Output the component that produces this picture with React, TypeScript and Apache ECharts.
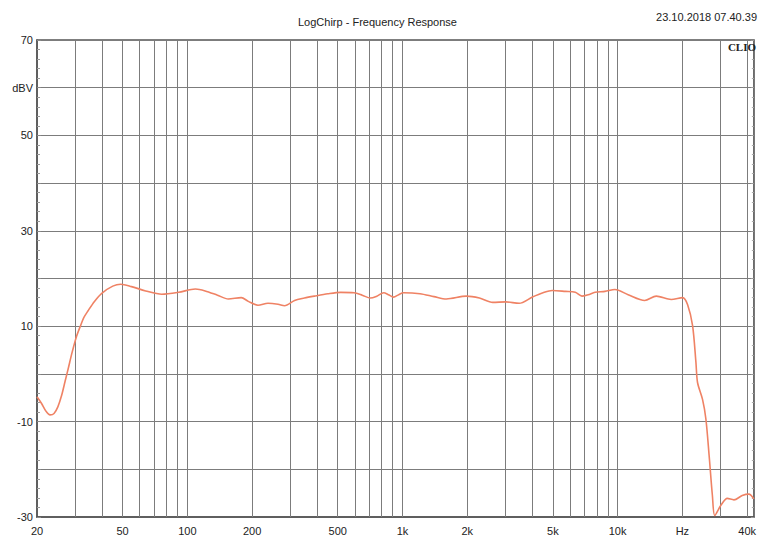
import React, { useEffect, useRef } from "react";
import * as echarts from "echarts";

const freqHz = [20, 21, 22, 23, 24, 25, 26, 27, 28, 29, 30.5, 32, 33, 34.5, 37, 40, 45, 49, 55, 64, 76, 91, 109, 121, 138, 155, 178, 192, 213, 237, 264, 283, 315, 350, 389, 450, 516, 595, 650, 709, 760, 818, 860, 909, 960, 1011, 1206, 1400, 1600, 1979, 2279, 2627, 3025, 3484, 4016, 4500, 4966, 5719, 6358, 6827, 7300, 7861, 8738, 9721, 11193, 13362, 15132, 17737, 20064, 21156, 22309, 23125, 23522, 24800, 25714, 26631, 27580, 28291, 30157, 32357, 34731, 37945, 40736, 43000];
const levelDb = [-4.8, -6.2, -7.8, -8.6, -8.3, -6.9, -4.6, -1.6, 1.3, 4.2, 7.8, 10.3, 11.8, 13.2, 15.2, 16.9, 18.4, 18.8, 18.3, 17.4, 16.7, 17.1, 17.8, 17.4, 16.5, 15.7, 16.0, 15.2, 14.4, 14.8, 14.6, 14.3, 15.4, 15.9, 16.3, 16.8, 17.1, 17.0, 16.5, 15.9, 16.3, 17.0, 16.6, 16.1, 16.6, 17.0, 16.8, 16.2, 15.7, 16.3, 15.9, 15.0, 15.1, 14.8, 16.1, 17.0, 17.5, 17.3, 17.1, 16.3, 16.6, 17.1, 17.3, 17.7, 16.6, 15.4, 16.3, 15.6, 16.0, 14.5, 10.1, 2.4, -1.8, -5.3, -9.4, -17.1, -25.5, -29.7, -27.6, -26.1, -26.4, -25.5, -25.2, -26.2];

const xLabelValues = [20, 50, 100, 200, 500, 1000, 2000, 5000, 10000, 20000, 40000];
const gridFreqs = [30, 40, 50, 60, 70, 80, 90, 100, 200, 300, 400, 500, 600, 700, 800, 900, 1000, 2000, 3000, 4000, 5000, 6000, 7000, 8000, 9000, 10000, 20000, 30000, 40000];
const yLabeled = [70, 50, 30, 10, -10, -30];

const titleText = "LogChirp - Frequency Response";
const dateText = "23.10.2018 07.40.39";

export default function App() {
  const ref = useRef<HTMLDivElement>(null);
  useEffect(() => {
    if (!ref.current) return;
    const chart = echarts.init(ref.current, null, { renderer: "svg" });
    const font = "'Liberation Sans', Arial, sans-serif";
    const gridColor = "#7c7c7c";
    chart.setOption({
      animation: false,
      backgroundColor: "#ffffff",
      title: {
        text: titleText,
        left: 293,
        top: 11,
        textStyle: { fontFamily: font, fontSize: 11, fontWeight: "normal", color: "#222" },
      },
      graphic: [
        {
          type: "text",
          right: 2,
          top: 11,
          style: { text: dateText, font: `11px ${font}`, fill: "#222" },
        },
        {
          type: "text",
          right: 3,
          top: 41,
          z: 100,
          style: { text: "CLIO", font: "bold 11px 'Liberation Serif', 'DejaVu Serif', serif", fill: "#222" },
        },
      ],
      grid: {
        left: 37,
        right: 2,
        top: 40,
        bottom: 22,
        show: true,
        borderColor: "#555",
        borderWidth: 1.5,
        backgroundColor: "#fff",
      },
      xAxis: {
        type: "log",
        logBase: 10,
        min: 20,
        max: 43000,
        splitLine: { show: false },
        axisTick: { show: false },
        axisLine: { show: true, onZero: false, lineStyle: { color: "#555", width: 1.5 } },
        axisLabel: {
          customValues: xLabelValues,
          margin: 8,
          fontFamily: font,
          fontSize: 11,
          color: "#222",
          formatter: (v: number) => (v === 20000 ? "Hz" : v >= 1000 ? `${v / 1000}k` : `${v}`),
        },
      },
      yAxis: [
        {
          type: "value",
          min: -30,
          max: 70,
          interval: 10,
          axisLine: { show: true, lineStyle: { color: "#555", width: 1.5 } },
          axisTick: { show: true, inside: true, length: 4, lineStyle: { color: "#888" } },
          minorTick: { show: true, splitNumber: 5, length: 3, lineStyle: { color: "#999" } },
          splitLine: { show: true, lineStyle: { color: gridColor, width: 1 } },
          axisLabel: {
            margin: 4,
            fontFamily: font,
            fontSize: 11,
            color: "#222",
            formatter: (v: number) => (v === 60 ? "dBV" : yLabeled.includes(v) ? `${v}` : ""),
          },
        },
        {
          type: "value",
          position: "right",
          min: -30,
          max: 70,
          interval: 10,
          axisLine: { show: true, lineStyle: { color: "#777", width: 1 } },
          axisTick: { show: true, inside: true, length: 3, lineStyle: { color: "#999" } },
          minorTick: { show: true, splitNumber: 5, length: 2, lineStyle: { color: "#aaa" } },
          splitLine: { show: false },
          axisLabel: { show: false },
        },
      ],
      series: [
        {
          type: "line",
          data: [],
          z: 1,
          silent: true,
          markLine: {
            silent: true,
            symbol: ["none", "none"],
            label: { show: false },
            lineStyle: { color: gridColor, width: 1, type: "solid" },
            data: gridFreqs.map((f) => ({ xAxis: f })),
          },
        },
        {
          type: "line",
          z: 5,
          data: freqHz.map((f, i) => [f, levelDb[i]]),
          showSymbol: false,
          smooth: 0.3,
          lineStyle: { color: "#ef8264", width: 1.6 },
        },
      ],
    });
    return () => chart.dispose();
  }, []);
  return <div ref={ref} style={{ position: "absolute", left: 0, top: 0, width: 759, height: 539 }} />;
}
